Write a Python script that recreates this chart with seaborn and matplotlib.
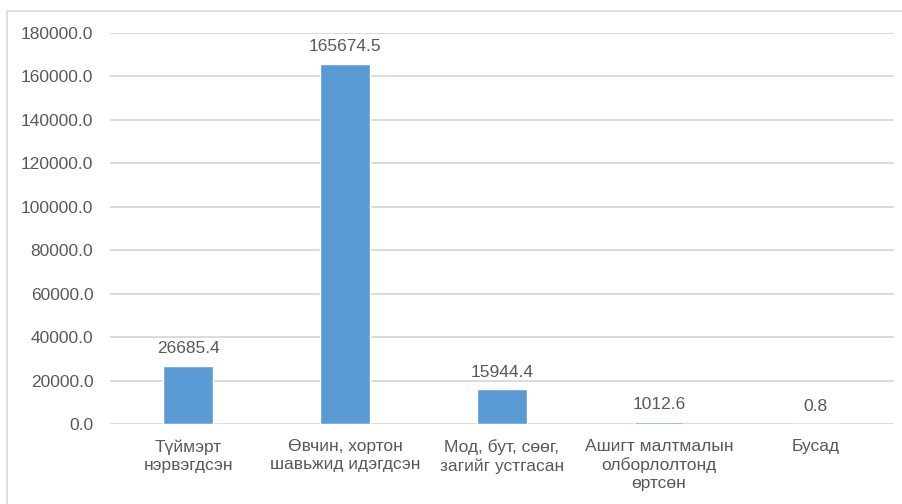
import matplotlib
matplotlib.use('Agg')
import matplotlib.pyplot as plt
import seaborn as sns
import pandas as pd
from matplotlib.patches import Rectangle
from matplotlib.ticker import FormatStrFormatter

# категориуд ба утгууд
categories = ['Түймэрт\nнэрвэгдсэн', 'Өвчин, хортон\nшавьжид идэгдсэн',
              'Мод, бут, сөөг,\nзагийг устгасан', 'Ашигт малтмалын\nолборлолтонд\nөртсөн',
              'Бусад']
values = [26685.4, 165674.5, 15944.4, 1012.6, 0.8]
y_ticks = [0, 20000, 40000, 60000, 80000, 100000, 120000, 140000, 160000, 180000]

dados = pd.DataFrame({'cat': categories, 'val': values})

sns.set_style('white')
plt.rcParams['font.family'] = ['Liberation Sans', 'DejaVu Sans']
txt = '#595959'

fig = plt.figure(figsize=(9.03, 5.04), dpi=100)
ax = fig.add_axes([110 / 903, 1 - 424 / 504, 784 / 903, 391 / 504])

sns.barplot(data=dados, x='cat', y='val', color='#5B9BD5', width=0.32,
            saturation=1, ax=ax, zorder=3)

ax.set_ylim(0, 180000)
ax.set_yticks(y_ticks)
ax.yaxis.set_major_formatter(FormatStrFormatter('%.1f'))
ax.grid(axis='y', color='#D9D9D9', linewidth=1.3, zorder=0)
ax.set_axisbelow(True)
for s in ax.spines.values():
    s.set_visible(False)
ax.tick_params(axis='both', length=0, colors=txt, labelsize=12.5)
ax.tick_params(axis='y', pad=12)
ax.tick_params(axis='x', pad=11)
for lbl in ax.get_xticklabels():
    lbl.set_linespacing(1.25)
ax.set_xlabel('')
ax.set_ylabel('')

# bar labels
for i, v in enumerate(values):
    ax.annotate(f'{v:.1f}', (i, v), xytext=(0, 7), textcoords='offset points',
                ha='center', va='bottom', fontsize=12.5, color=txt)

# borda do gráfico
fig.patches.append(Rectangle((7 / 903, -0.1), 2, 1.1 - 11 / 504, transform=fig.transFigure,
                             fill=False, edgecolor='#D9D9D9', linewidth=1.2))

plt.savefig('out.png', dpi=100)
